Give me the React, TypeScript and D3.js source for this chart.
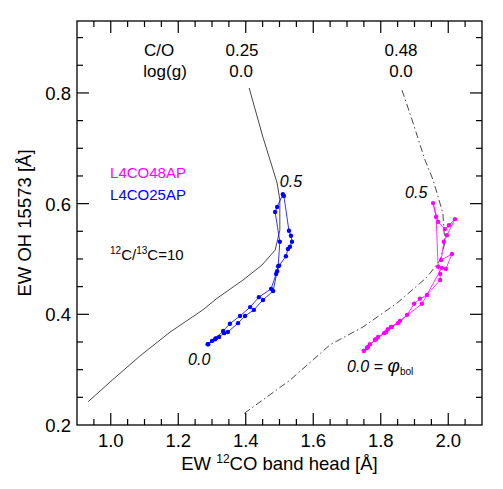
import React from "react";
import * as d3 from "d3";

const W = 503;
const H = 489;

// black solid track, C/O = 0.25
const solidX = [1.410, 1.451, 1.481, 1.493, 1.501, 1.501, 1.487, 1.448, 1.392, 1.315, 1.273, 1.176, 1.087, 1.004, 0.933];
const solidY = [0.809, 0.720, 0.661, 0.637, 0.607, 0.552, 0.516, 0.489, 0.462, 0.429, 0.408, 0.368, 0.325, 0.281, 0.242];

// dash-dot track, C/O = 0.48
const dashX = [1.863, 1.893, 1.931, 1.955, 1.984, 1.990, 1.976, 1.937, 1.848, 1.747, 1.650, 1.531, 1.389];
const dashY = [0.805, 0.751, 0.679, 0.643, 0.583, 0.529, 0.498, 0.467, 0.420, 0.377, 0.345, 0.281, 0.218];

// L4CO25AP (blue)
const blueX = [1.287, 1.300, 1.312, 1.333, 1.353, 1.383, 1.413, 1.439, 1.475, 1.490, 1.496, 1.501, 1.487, 1.493, 1.510,
  1.513, 1.528, 1.534, 1.537, 1.531, 1.525, 1.519, 1.499, 1.493, 1.481, 1.451, 1.424, 1.398, 1.377, 1.347, 1.336, 1.321, 1.309, 1.289];
const blueY = [0.346, 0.352, 0.357, 0.370, 0.383, 0.397, 0.413, 0.431, 0.446, 0.473, 0.487, 0.531, 0.585, 0.594, 0.617,
  0.614, 0.551, 0.542, 0.531, 0.522, 0.518, 0.505, 0.488, 0.478, 0.442, 0.426, 0.408, 0.397, 0.384, 0.368, 0.366, 0.359, 0.355, 0.346];

// L4CO48AP (magenta)
const magX = [1.750, 1.759, 1.768, 1.783, 1.792, 1.810, 1.821, 1.833, 1.851, 1.878, 1.899, 1.916, 1.937, 1.976, 1.976, 1.970, 1.964, 1.955,
  1.970, 1.990, 2.002, 2.020, 1.996, 1.987, 1.979, 2.011, 1.993, 1.981, 1.922, 1.857, 1.830, 1.816, 1.786, 1.762, 1.750];
const magY = [0.334, 0.339, 0.346, 0.354, 0.359, 0.366, 0.373, 0.377, 0.384, 0.399, 0.419, 0.428, 0.435, 0.462, 0.473, 0.486, 0.576, 0.601,
  0.567, 0.554, 0.561, 0.572, 0.543, 0.531, 0.498, 0.509, 0.482, 0.484, 0.419, 0.388, 0.377, 0.368, 0.355, 0.341, 0.334];

const xMajor = [1.0, 1.2, 1.4, 1.6, 1.8, 2.0];
const xTickLabels = ["1.0", "1.2", "1.4", "1.6", "1.8", "2.0"];
const yMajor = [0.2, 0.4, 0.6, 0.8];
const yTickLabels = ["0.2", "0.4", "0.6", "0.8"];

const FONT = "'Liberation Sans', Arial, Helvetica, sans-serif";

export default function App() {
  const x = d3.scaleLinear().domain([0.9, 2.1]).range([77, 482]);
  const y = d3.scaleLinear().domain([0.2, 0.93]).range([425, 21]);
  const [x0, x1] = x.range();
  const [y0, y1] = y.range();

  const xMinor = d3.range(0, 25).map((i) => 0.9 + i * 0.05).filter((v) => v > 0.91 && v < 2.09);
  const yMinor = d3.range(0, 15).map((i) => 0.2 + i * 0.05).filter((v) => v > 0.21 && v < 0.925);
  const isMajor = (v: number, arr: number[]) => arr.some((m) => Math.abs(m - v) < 1e-6);

  const line = d3.line<[number, number]>().x((d) => x(d[0])).y((d) => y(d[1]));
  const pts = (xs: number[], ys: number[]) => xs.map((v, i) => [v, ys[i]] as [number, number]);

  const solid = pts(solidX, solidY);
  const dash = pts(dashX, dashY);
  const blue = pts(blueX, blueY);
  const mag = pts(magX, magY);

  const tickLen = (major: boolean) => (major ? 12 : 6);

  return (
    <svg width={W} height={H} style={{ position: "absolute", left: 0, top: 0, background: "#fff" }} fontFamily={FONT}>
      <rect x={0} y={0} width={W} height={H} fill="#fff" />
      {/* data lines */}
      <path d={line(solid) || ""} fill="none" stroke="#333" strokeWidth={0.9} />
      <path d={line(dash) || ""} fill="none" stroke="#333" strokeWidth={0.9} strokeDasharray="7,3,1.5,3" />
      <path d={line(mag) || ""} fill="none" stroke="#ff00ff" strokeWidth={0.8} />
      {mag.map((d, i) => (
        <circle key={"m" + i} cx={x(d[0])} cy={y(d[1])} r={2.2} fill="#ff00ff" />
      ))}
      <path d={line(blue) || ""} fill="none" stroke="#0000ff" strokeWidth={0.8} />
      {blue.map((d, i) => (
        <circle key={"b" + i} cx={x(d[0])} cy={y(d[1])} r={2.2} fill="#0000ff" />
      ))}

      {/* frame */}
      <rect x={x0} y={y1} width={x1 - x0} height={y0 - y1} fill="none" stroke="#000" strokeWidth={1.3} />
      {xMinor.map((v, i) => {
        const L = tickLen(isMajor(v, xMajor));
        return (
          <g key={"xt" + i} stroke="#000" strokeWidth={1.2}>
            <line x1={x(v)} x2={x(v)} y1={y0} y2={y0 - L} />
            <line x1={x(v)} x2={x(v)} y1={y1} y2={y1 + L} />
          </g>
        );
      })}
      {yMinor.map((v, i) => {
        const L = tickLen(isMajor(v, yMajor));
        return (
          <g key={"yt" + i} stroke="#000" strokeWidth={1.2}>
            <line x1={x0} x2={x0 + L} y1={y(v)} y2={y(v)} />
            <line x1={x1} x2={x1 - L} y1={y(v)} y2={y(v)} />
          </g>
        );
      })}
      {xMajor.map((v, i) => (
        <text key={"xl" + i} x={x(v)} y={y0 + 22} fontSize={18.5} textAnchor="middle" fill="#000">
          {xTickLabels[i]}
        </text>
      ))}
      {yMajor.map((v, i) => (
        <text key={"yl" + i} x={x0 - 6} y={y(v) + 7} fontSize={18.5} textAnchor="end" fill="#000">
          {yTickLabels[i]}
        </text>
      ))}

      {/* axis titles */}
      <text x={(x0 + x1) / 2} y={470} fontSize={18.5} textAnchor="middle" fill="#000">
        EW <tspan fontSize={12} dy={-7}>12</tspan>
        <tspan dy={7}>CO band head [Å]</tspan>
      </text>
      <text transform={`translate(31,${(y0 + y1) / 2}) rotate(-90)`} fontSize={18.5} textAnchor="middle" fill="#000">
        EW OH 15573 [Å]
      </text>

      {/* annotations */}
      <g fontSize={17} fill="#000" textAnchor="middle">
        <text x={x(1.143)} y={y(0.867)}>C/O</text>
        <text x={x(1.161)} y={y(0.829)}>log(g)</text>
        <text x={x(1.389)} y={y(0.867)}>0.25</text>
        <text x={x(1.386)} y={y(0.829)}>0.0</text>
        <text x={x(1.860)} y={y(0.867)}>0.48</text>
        <text x={x(1.860)} y={y(0.829)}>0.0</text>
      </g>
      <text x={x(0.998)} y={y(0.646)} fontSize={15} fill="#ff00ff">L4CO48AP</text>
      <text x={x(0.998)} y={y(0.607)} fontSize={15} fill="#0000ff">L4CO25AP</text>
      <text x={x(0.998)} y={y(0.498)} fontSize={15} fill="#000">
        <tspan fontSize={10} dy={-6}>12</tspan>
        <tspan dy={6}>C/</tspan>
        <tspan fontSize={10} dy={-6}>13</tspan>
        <tspan dy={6}>C=10</tspan>
      </text>
      <text x={x(1.501)} y={y(0.630)} fontSize={16} fontStyle="italic" fill="#000">0.5</text>
      <text x={x(1.872)} y={y(0.610)} fontSize={16} fontStyle="italic" fill="#000">0.5</text>
      <text x={x(1.229)} y={y(0.308)} fontSize={16} fontStyle="italic" fill="#000">0.0</text>
      <text x={x(1.700)} y={y(0.296)} fontSize={16} fill="#000">
        <tspan fontStyle="italic">0.0</tspan> = <tspan fontStyle="italic" fontSize={19}>φ</tspan>
        <tspan fontSize={10} dy={3}>bol</tspan>
      </text>
    </svg>
  );
}
